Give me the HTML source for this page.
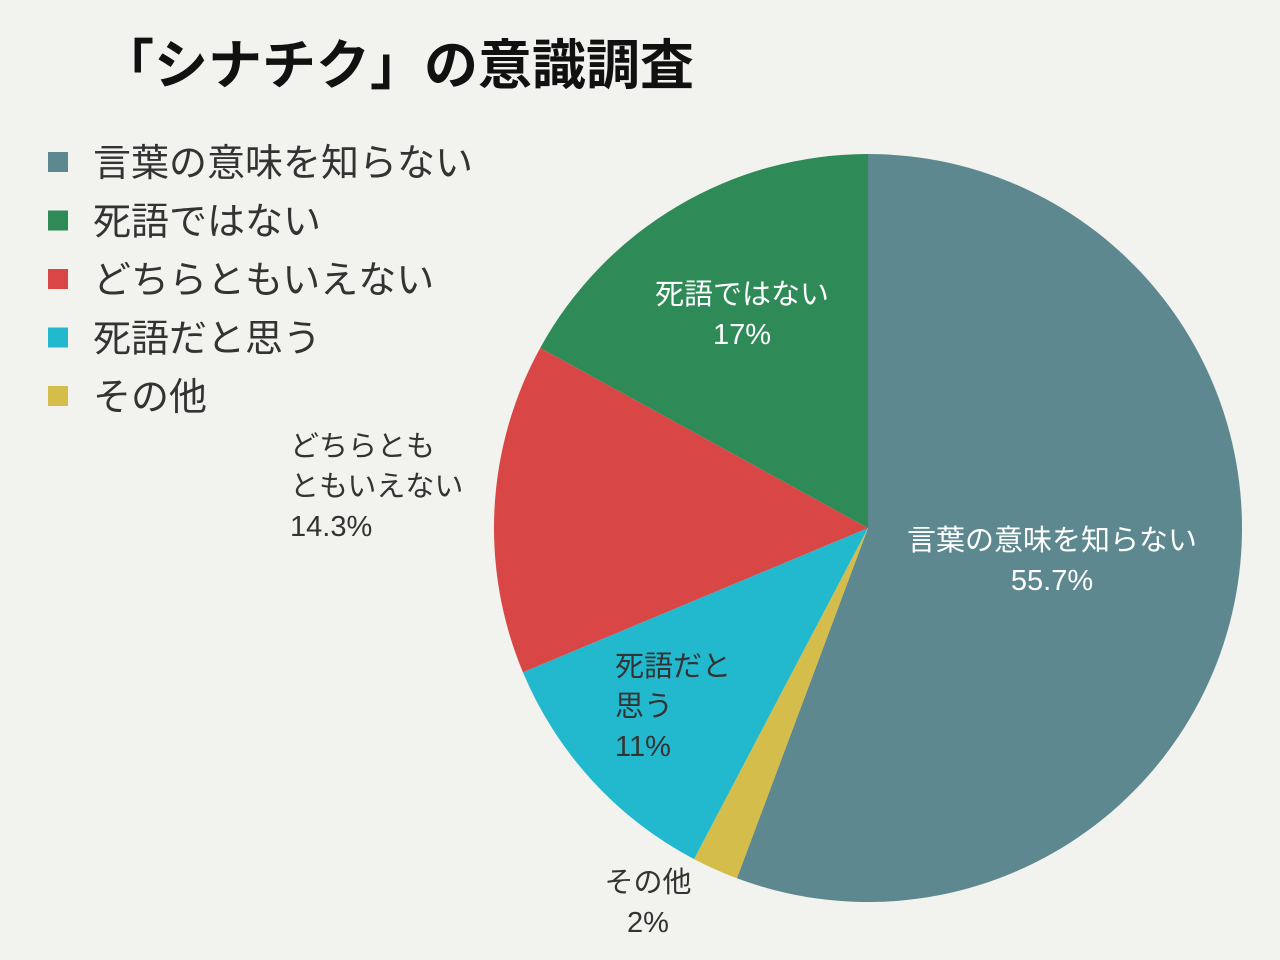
<!DOCTYPE html>
<html><head><meta charset="utf-8">
<style>
body{margin:0;background:#f2f2ee;}
svg{display:block;font-family:"Liberation Sans","Noto Sans CJK JP",sans-serif;}
</style></head>
<body>
<svg width="1280" height="960" viewBox="0 0 1280 960">
<rect width="1280" height="960" fill="#f2f2ee"/>
<text x="100" y="84" font-size="54" font-weight="bold" fill="#111">「シナチク」の意識調査</text>
<g id="slices"></g>
<g id="legend"></g>
<g id="labels"></g>
</svg>
<script>
const categories = ["言葉の意味を知らない","その他","死語だと思う","どちらともいえない","死語ではない"];
const values = [55.7, 2, 11, 14.3, 17];
const valueLabels = ["55.7%","2%","11%","14.3%","17%"];
const legendOrder = ["言葉の意味を知らない","死語ではない","どちらともいえない","死語だと思う","その他"];
const colors = {"言葉の意味を知らない":"#5e8890","死語ではない":"#2e8b57","どちらともいえない":"#d94646","死語だと思う":"#22b9cf","その他":"#d4bd4b"};
const cx=868, cy=528, r=374;
const NS="http://www.w3.org/2000/svg";
const total = values.reduce((a,b)=>a+b,0);
function pt(a,rad){return [cx+rad*Math.sin(a), cy-rad*Math.cos(a)];}
const sg=document.getElementById('slices');
let acc=0;
const mids=[];
values.forEach((v,i)=>{
  const a0=acc/total*2*Math.PI; acc+=v; const a1=acc/total*2*Math.PI;
  mids.push((a0+a1)/2);
  const p0=pt(a0,r), p1=pt(a1,r);
  const path=document.createElementNS(NS,'path');
  path.setAttribute('d',`M${cx},${cy} L${p0[0]},${p0[1]} A${r},${r} 0 ${a1-a0>Math.PI?1:0} 1 ${p1[0]},${p1[1]} Z`);
  path.setAttribute('fill',colors[categories[i]]);
  
  
  sg.appendChild(path);
});
const lg=document.getElementById('legend');
legendOrder.forEach((c,i)=>{
  const y=162+i*58.5;
  const rc=document.createElementNS(NS,'rect');
  rc.setAttribute('x',48);rc.setAttribute('y',y-10);rc.setAttribute('width',20);rc.setAttribute('height',20);
  rc.setAttribute('fill',colors[c]);
  
  
  lg.appendChild(rc);
  const t=document.createElementNS(NS,'text');
  t.setAttribute('x',93);t.setAttribute('y',y+14);t.setAttribute('font-size',38);t.setAttribute('fill','#333');
  t.textContent=c;
  
  
  lg.appendChild(t);
});
// label layouts: [lines, x, y, anchor, color]
const labelCfg=[
 {lines:[categories[0],valueLabels[0]],x:1052,y:550,anchor:'middle',fill:'#fff'},
 {lines:[categories[1],valueLabels[1]],x:648,y:892,anchor:'middle',fill:'#333'},
 {lines:["死語だと","思う",valueLabels[2]],x:615,y:676,anchor:'start',fill:'#333'},
 {lines:["どちらとも","ともいえない",valueLabels[3]],x:290,y:456,anchor:'start',fill:'#333'},
 {lines:[categories[4],valueLabels[4]],x:742,y:304,anchor:'middle',fill:'#fff'}
];
const lb=document.getElementById('labels');
labelCfg.forEach((c,i)=>{
  c.lines.forEach((s,j)=>{
    const t=document.createElementNS(NS,'text');
    t.setAttribute('x',c.x);t.setAttribute('y',c.y+j*40);t.setAttribute('font-size',29);
    t.setAttribute('text-anchor',c.anchor);t.setAttribute('fill',c.fill);
    t.textContent=s;
    
    
    lb.appendChild(t);
  });
});
</script>
</body></html>
